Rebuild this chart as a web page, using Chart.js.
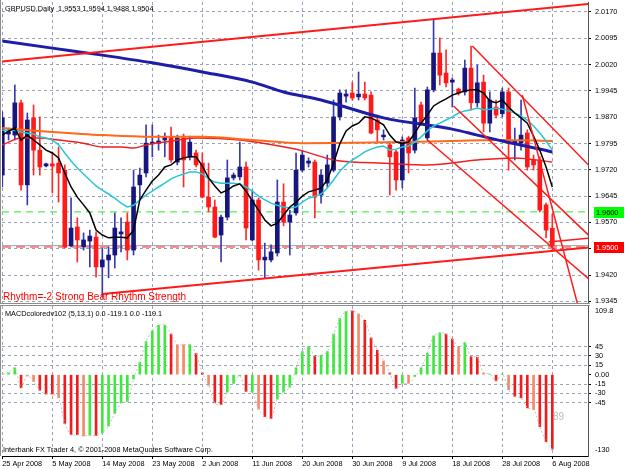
<!DOCTYPE html>
<html>
<head>
<meta charset="utf-8">
<script src="https://cdn.jsdelivr.net/npm/chart.js@4.4.0/dist/chart.umd.min.js"></script>
<style>
html, body { margin: 0; padding: 0; background: #fff; overflow: hidden; }
#wrap { position: relative; width: 625px; height: 469px; }
canvas { position: absolute; left: 0; }
#main { top: 0; }
#macd { top: 305px; }
</style>
</head>
<body>
<div id="wrap">
  <canvas id="main" width="625" height="306" style="width:625px;height:306px"></canvas>
  <canvas id="macd" width="625" height="164" style="width:625px;height:164px"></canvas>
</div>
<script>
// ---- data ----
const xLabels = ['25 Apr 2008','5 May 2008','14 May 2008','23 May 2008','2 Jun 2008','11 Jun 2008',
                 '20 Jun 2008','30 Jun 2008','9 Jul 2008','18 Jul 2008','28 Jul 2008','6 Aug 2008'];
const xLabelIdx = [0, 8, 16, 24, 32, 40, 48, 56, 64, 72, 80, 88];

const opens = [1.9705,1.9822,1.9819,1.9911,1.9677,1.9868,1.9776,1.9731,1.9737,1.9739,
  1.9719,1.9503,1.9557,1.9500,1.9517,1.9528,1.9443,1.9463,1.9477,1.9537,
  1.9571,1.9491,1.9677,1.9711,1.9794,1.9796,1.9805,1.9814,1.9742,1.9811,
  1.9757,1.9768,1.9739,1.9642,1.9614,1.9534,1.9585,1.9697,1.9700,1.9728,
  1.9520,1.9634,1.9463,1.9463,1.9483,1.9628,1.9571,1.9597,1.9719,1.9739,
  1.9742,1.9648,1.9682,1.9719,1.9871,1.9930,1.9939,1.9928,1.9936,1.9933,
  1.9862,1.9814,1.9791,1.9771,1.9691,1.9811,1.9776,1.9905,1.9811,1.9948,
  2.0053,1.9996,1.9970,1.9950,1.9942,2.0010,1.9911,1.9970,1.9853,1.9899,
  1.9880,1.9942,1.9796,1.9796,1.9825,1.9748,1.9748,1.9620,1.9553];
const highs = [1.9885,1.9839,1.9962,1.9919,1.9882,1.9905,1.9871,1.9739,1.9771,1.9785,
  1.9734,1.9640,1.9583,1.9540,1.9548,1.9543,1.9497,1.9500,1.9597,1.9583,
  1.9597,1.9719,1.9725,1.9848,1.9848,1.9819,1.9825,1.9842,1.9819,1.9822,
  1.9816,1.9776,1.9768,1.9739,1.9634,1.9591,1.9748,1.9711,1.9799,1.9742,
  1.9662,1.9640,1.9511,1.9506,1.9691,1.9680,1.9605,1.9768,1.9776,1.9754,
  1.9748,1.9719,1.9762,1.9919,1.9948,1.9948,1.9970,1.9999,1.9970,1.9942,
  1.9876,1.9834,1.9799,1.9776,1.9814,1.9816,1.9953,1.9913,1.9956,2.0147,
  2.0096,2.0062,1.9982,1.9953,2.0033,2.0073,2.0019,1.9990,1.9942,1.9919,
  1.9953,1.9953,1.9839,1.9919,1.9834,1.9762,1.9757,1.9625,1.9594];
const lows = [1.9671,1.9805,1.9805,1.9662,1.9620,1.9705,1.9705,1.9728,1.9654,1.9628,
  1.9497,1.9500,1.9457,1.9491,1.9443,1.9414,1.9357,1.9412,1.9440,1.9486,
  1.9463,1.9477,1.9634,1.9700,1.9757,1.9776,1.9757,1.9742,1.9734,1.9671,
  1.9748,1.9728,1.9640,1.9600,1.9526,1.9457,1.9577,1.9691,1.9691,1.9520,
  1.9517,1.9434,1.9412,1.9457,1.9474,1.9560,1.9477,1.9591,1.9714,1.9728,
  1.9583,1.9625,1.9671,1.9714,1.9862,1.9913,1.9919,1.9919,1.9919,1.9822,
  1.9796,1.9805,1.9648,1.9662,1.9668,1.9711,1.9768,1.9848,1.9805,1.9942,
  1.9962,1.9956,1.9899,1.9933,1.9933,1.9891,1.9899,1.9828,1.9828,1.9868,
  1.9871,1.9719,1.9748,1.9776,1.9719,1.9719,1.9600,1.9526,1.9488];
const closes = [1.9868,1.9828,1.9911,1.9677,1.9862,1.9776,1.9728,1.9737,1.9731,1.9711,
  1.9500,1.9554,1.9520,1.9520,1.9531,1.9443,1.9463,1.9477,1.9554,1.9543,
  1.9491,1.9671,1.9705,1.9796,1.9799,1.9802,1.9814,1.9748,1.9811,1.9748,
  1.9799,1.9734,1.9642,1.9614,1.9528,1.9585,1.9697,1.9705,1.9728,1.9554,
  1.9634,1.9463,1.9471,1.9486,1.9628,1.9571,1.9591,1.9719,1.9762,1.9745,
  1.9642,1.9705,1.9734,1.9871,1.9939,1.9936,1.9925,1.9936,1.9925,1.9825,
  1.9834,1.9819,1.9757,1.9691,1.9805,1.9768,1.9868,1.9853,1.9948,2.0053,
  1.9990,1.9968,1.9976,1.9939,2.0010,1.9911,1.9968,1.9853,1.9919,1.9876,
  1.9942,1.9799,1.9802,1.9819,1.9728,1.9734,1.9605,1.9548,1.9504];

// moving averages
const blackMA = [1.9819,1.9830,1.9839,1.9805,1.9819,1.9805,1.9791,1.9776,1.9768,1.9754,
  1.9711,1.9671,1.9642,1.9620,1.9597,1.9548,1.9534,1.9526,1.9528,1.9528,
  1.9526,1.9548,1.9634,1.9662,1.9688,1.9705,1.9728,1.9734,1.9748,1.9754,
  1.9757,1.9757,1.9731,1.9697,1.9674,1.9654,1.9662,1.9674,1.9680,1.9659,
  1.9631,1.9605,1.9577,1.9560,1.9568,1.9591,1.9614,1.9628,1.9645,1.9657,
  1.9662,1.9668,1.9691,1.9739,1.9794,1.9831,1.9845,1.9853,1.9871,1.9868,
  1.9859,1.9848,1.9819,1.9799,1.9796,1.9799,1.9825,1.9853,1.9876,1.9902,
  1.9913,1.9922,1.9933,1.9939,1.9945,1.9948,1.9948,1.9939,1.9916,1.9911,
  1.9919,1.9899,1.9882,1.9868,1.9853,1.9816,1.9776,1.9728,1.9671];
const cyanMA = [1.9833,1.9833,1.9833,1.9828,1.9825,1.9822,1.9814,1.9811,1.9805,1.9791,
  1.9768,1.9745,1.9725,1.9708,1.9691,1.9674,1.9662,1.9651,1.9639,1.9625,
  1.9614,1.9619,1.9634,1.9648,1.9659,1.9671,1.9682,1.9694,1.9702,1.9708,
  1.9714,1.9714,1.9708,1.9694,1.9685,1.9682,1.9682,1.9682,1.9679,1.9671,
  1.9659,1.9645,1.9634,1.9625,1.9619,1.9614,1.9611,1.9614,1.9628,1.9639,
  1.9645,1.9651,1.9668,1.9691,1.9716,1.9734,1.9748,1.9759,1.9771,1.9779,
  1.9785,1.9788,1.9776,1.9779,1.9785,1.9788,1.9799,1.9814,1.9831,1.9845,
  1.9853,1.9862,1.9871,1.9882,1.9888,1.9891,1.9896,1.9891,1.9893,1.9896,
  1.9893,1.9888,1.9882,1.9873,1.9862,1.9845,1.9825,1.9802,1.9776];
const blueIdx = [0, 8, 16, 24, 32, 40, 45, 51, 61, 72, 76, 80, 88];
const blueVal = [2.0087,2.0067,2.0047,2.0025,1.9999,1.9970,1.9942,1.9919,1.9868,1.9836,1.9819,1.9802,1.9771];
const orangeIdx = [0, 8, 16, 24, 32, 40, 48, 64, 80, 88];
const orangeVal = [1.9839,1.9828,1.9819,1.9814,1.9814,1.9805,1.9796,1.9799,1.9805,1.9802];
const redIdx = [0, 3, 6, 9, 13, 16, 19, 21, 23, 26, 31, 38, 46, 48, 53, 56, 61, 68, 76, 82, 88];
const redVal = [1.9791,1.9811,1.9811,1.9805,1.9796,1.9785,1.9785,1.9782,1.9791,1.9799,1.9811,
  1.9805,1.9782,1.9774,1.9748,1.9742,1.9739,1.9734,1.9748,1.9754,1.9742];

// trend lines: [bar index, price] end points
const trendTop    = [[-0.5, 2.0028], [94, 2.0193]];
const trendBottom = [[16, 1.9366], [94.6, 1.9500]];
const trendA = [[75.2, 2.0073], [94.6, 1.9719]];
const trendB = [[72.2, 1.9902], [94.6, 1.9520]];
const trendC = [[83.2, 1.9933], [92, 1.9340]];
const trendD = [[68, 1.9805], [94.6, 1.9397]];
const trendE = [[87.4, 1.9514], [94.6, 1.9526]];

const levelGreen = 1.9600;
const levelRed = 1.9500;
const priceTicks = [1.9345,1.9420,1.9495,1.9570,1.9645,1.9720,1.9795,1.9870,1.9945,2.0020,2.0095,2.0170];

// MACD histogram (g = rising, r = falling, s = weak)
const macd = [1,3,11,-21,-2,-11,-25,-31,-31,-37,
  -78,-96,-96,-98,-97,-97,-93,-82,-62,-45,
  -43,-7,20,53,70,79,79,65,48,48,
  48,34,3,-17,-45,-48,-28,-14,-2,-27,
  -28,-55,-67,-70,-39,-28,-20,11,37,45,
  30,31,37,65,90,101,102,97,87,59,
  39,22,3,-22,-14,-14,-3,11,34,62,
  67,65,57,44,51,29,28,3,1,-10,
  1,-24,-35,-37,-53,-56,-83,-107,-119.1];
const macdState = ['gggrssrrrs','rrrsgrgggg','gggggggrss','grrsrrgggr','gsrrgggggg',
  'rgggggrsrr','rsrrgsgggg','grrsgrrsgr','gsrrrsrrr'].join('').split('');
const macdTicks = [45, 30, 15, 0, -15, -30, -45];
const macdMax = 109.8, macdMin = -130;

const title = 'GBPUSD,Daily  1.9553 1.9594 1.9488 1.9504';
const rhythmText = 'Rhythm=-2 Strong Bear Rhythm Strength';
const macdTitle = 'MACDcoloredv102 (5,13,1) 0.0 -119.1 0.0 -119.1';
const footer = 'Interbank FX Trader 4, \u00a9 2001-2008 MetaQuotes Software Corp.';
const macdNote = '89';

// ---- setup ----
const FONT = '"Liberation Sans", Arial, sans-serif';
Chart.defaults.font.family = FONT;
Chart.defaults.font.size = 7.3;
Chart.defaults.color = '#000';
Chart.defaults.animation = false;
Chart.defaults.plugins.legend.display = false;
Chart.defaults.plugins.tooltip.enabled = false;

const GRID = '#99a2b6';
const X_MIN = -0.05, X_MAX = 93.71;
const idx = closes.map((_, i) => i);

function zeroPad(s) { s.paddingTop = s.paddingBottom = s.paddingLeft = s.paddingRight = 0; }

function xAxis(showLabels) {
  return {
    type: 'linear', min: X_MIN, max: X_MAX, offset: false,
    afterBuildTicks: s => { s.ticks = xLabelIdx.map(v => ({ value: v })); },
    afterFit: s => { s.height = showLabels ? 13 : 0; zeroPad(s); },
    ticks: { display: showLabels, autoSkip: false, maxRotation: 0, align: 'start', padding: 1,
             callback: v => xLabels[xLabelIdx.indexOf(v)] },
    grid: { offset: false, color: GRID, drawTicks: showLabels, tickLength: 3, tickColor: '#000', tickBorderDash: [] },
    border: { display: showLabels, color: '#000', dash: [3, 3] }
  };
}

const pts = (xs, ys) => xs.map((x, i) => ({ x: x, y: ys[i] }));
const seg = p => p.map(q => ({ x: q[0], y: q[1] }));
const line = (data, color, width, order, extra) => Object.assign({
  type: 'line', data: data, borderColor: color, borderWidth: width,
  pointRadius: 0, fill: false, order: order
}, extra || {});
const isBull = i => closes[i] >= opens[i];

const mainText = {
  id: 'mainText',
  afterDraw(chart) {
    const ctx = chart.ctx, ys = chart.scales.y, a = chart.chartArea;
    ctx.save();
    ctx.textBaseline = 'alphabetic';
    ctx.font = '7.3px ' + FONT;
    ctx.fillStyle = '#000';
    ctx.fillText(title, 5, 10.5);
    ctx.font = '10px ' + FONT;
    ctx.fillStyle = '#ff0000';
    ctx.fillText(rhythmText, 3, 300);
    [[levelGreen, '#00ff00', '#000'], [levelRed, '#ff0000', '#fff']].forEach(([v, bg, fg]) => {
      const py = Math.round(ys.getPixelForValue(v));
      ctx.fillStyle = bg;
      ctx.fillRect(a.right + 6, py - 5, 30, 11);
      ctx.fillStyle = fg;
      ctx.font = '7.3px ' + FONT;
      ctx.textBaseline = 'middle';
      ctx.fillText(v.toFixed(4), a.right + 8, py + 0.5);
    });
    ctx.strokeStyle = '#8c8c8c';
    ctx.lineWidth = 1;
    ctx.beginPath();
    ctx.moveTo(0, a.bottom + 0.5); ctx.lineTo(a.right + 2, a.bottom + 0.5);
    ctx.moveTo(0.5, 0); ctx.lineTo(0.5, a.bottom);
    ctx.stroke();
    ctx.restore();
  }
};

new Chart(document.getElementById('main'), {
  type: 'bar',
  data: {
    datasets: [
      line(seg(trendTop), '#ff1a1a', 2, 1),
      line(seg(trendBottom), '#ff1a1a', 2, 1),
      line(seg(trendA), '#ff1a1a', 1.5, 1),
      line(seg(trendB), '#ff1a1a', 1.5, 1),
      line(seg(trendC), '#ff1a1a', 1.5, 1),
      line(seg(trendD), '#ff1a1a', 1.5, 1),
      line(seg(trendE), '#ff1a1a', 1.5, 1),
      line(pts(idx, blackMA), '#000000', 1.5, 2),
      line(pts(idx, cyanMA), '#26c6d6', 1.5, 2),
      line(pts(blueIdx, blueVal), '#1d1da8', 3, 3, { cubicInterpolationMode: 'monotone' }),
      line(pts(orangeIdx, orangeVal), '#ff6a1a', 2, 3, { cubicInterpolationMode: 'monotone' }),
      line(pts(redIdx, redVal), '#f02020', 1.5, 3, { cubicInterpolationMode: 'monotone' }),
      {
        type: 'bar', order: 4, grouped: false, barThickness: 4, minBarLength: 1,
        data: idx.map(i => ({ x: i, y: [opens[i], closes[i]] })),
        backgroundColor: idx.map(i => isBull(i) ? '#16167e' : '#ff1a1a')
      },
      {
        type: 'bar', order: 5, grouped: false, barThickness: 1,
        data: idx.map(i => ({ x: i, y: [lows[i], highs[i]] })),
        backgroundColor: idx.map(i => isBull(i) ? '#3a3ab0' : '#ff2a2a')
      },
      line([{ x: X_MIN, y: levelGreen }, { x: X_MAX, y: levelGreen }], '#22ee22', 1, 6, { borderDash: [7, 5] }),
      line([{ x: X_MIN, y: closes[88] }, { x: X_MAX, y: closes[88] }], '#a8a8a8', 1, 6),
      line([{ x: X_MIN, y: levelRed }, { x: X_MAX, y: levelRed }], '#ee2020', 1, 6, { borderDash: [9, 5] })
    ]
  },
  options: {
    responsive: false, maintainAspectRatio: false,
    layout: { padding: { left: 2, top: 2, right: 0, bottom: 3 } },
    scales: {
      x: xAxis(false),
      y: {
        position: 'right', min: 1.93402, max: 2.01985,
        afterBuildTicks: s => { s.ticks = priceTicks.map(v => ({ value: v })); },
        afterFit: s => { s.width = 37; zeroPad(s); },
        ticks: { padding: 4, callback: v => v.toFixed(4) },
        grid: { color: GRID, tickLength: 3, tickColor: '#000', tickBorderDash: [] },
        border: { display: true, color: '#555', dash: [3, 3] }
      }
    }
  },
  plugins: [mainText]
});

const macdText = {
  id: 'macdText',
  afterDraw(chart) {
    const ctx = chart.ctx, a = chart.chartArea;
    ctx.save();
    ctx.font = '7.3px ' + FONT;
    ctx.fillStyle = '#000';
    ctx.textBaseline = 'alphabetic';
    ctx.fillText(macdTitle, 5, 11);
    ctx.fillText(footer, 3, 147);
    ctx.textBaseline = 'middle';
    ctx.fillText(String(macdMax), a.right + 7, 6);
    ctx.fillText(String(macdMin), a.right + 7, 145);
    ctx.font = '10px ' + FONT;
    ctx.fillStyle = '#bcbcbc';
    ctx.textBaseline = 'alphabetic';
    ctx.fillText(macdNote, 553, 115);
    ctx.strokeStyle = '#8c8c8c';
    ctx.lineWidth = 1;
    ctx.beginPath();
    ctx.moveTo(0, 0.5); ctx.lineTo(a.right + 2, 0.5);
    ctx.moveTo(0.5, 0); ctx.lineTo(0.5, a.bottom);
    ctx.stroke();
    ctx.restore();
  }
};

const stateColor = { g: '#3ee83e', r: '#f01c1c', s: '#f48a68' };

new Chart(document.getElementById('macd'), {
  type: 'bar',
  data: {
    datasets: [
      line(pts(idx, macd), '#c4c4c4', 1, 1, { borderDash: [2, 2], tension: 0.35 }),
      {
        type: 'bar', order: 2, grouped: false, barThickness: 2,
        data: idx.map(i => ({ x: i, y: macd[i] })),
        backgroundColor: idx.map(i => stateColor[macdState[i]])
      }
    ]
  },
  options: {
    responsive: false, maintainAspectRatio: false,
    layout: { padding: { left: 2, top: 1, right: 0, bottom: 0 } },
    scales: {
      x: xAxis(true),
      y: {
        position: 'right', min: macdMin, max: macdMax,
        afterBuildTicks: s => { s.ticks = macdTicks.map(v => ({ value: v })); },
        afterFit: s => { s.width = 37; zeroPad(s); },
        ticks: { padding: 4, callback: v => v === 0 ? '0.00' : String(v) },
        grid: {
          color: c => (c.tick && c.tick.value === 0) ? 'rgba(0,0,0,0)' : GRID,
          tickLength: 3, tickColor: '#000', tickBorderDash: []
        },
        border: { display: true, color: '#555', dash: [3, 3] }
      }
    }
  },
  plugins: [macdText]
});
</script>
</body>
</html>
